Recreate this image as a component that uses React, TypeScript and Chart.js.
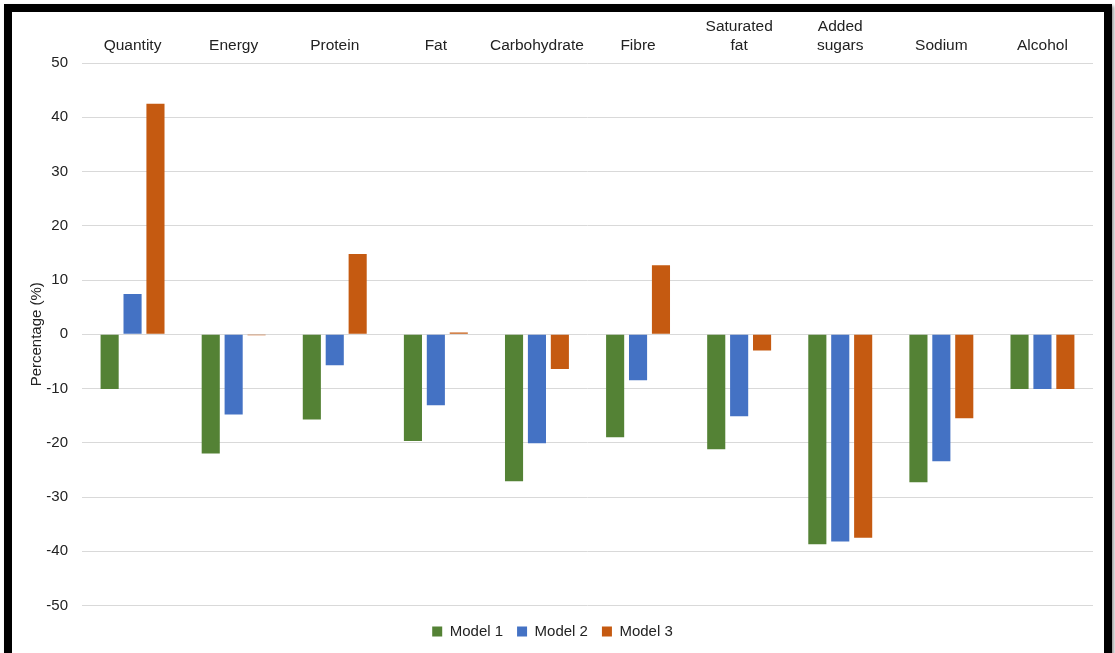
import React, { useEffect, useRef } from "react";
import { Chart, registerables } from "chart.js";

Chart.register(...registerables);

const categories: (string | string[])[] = [
  "Quantity",
  "Energy",
  "Protein",
  "Fat",
  "Carbohydrate",
  "Fibre",
  ["Saturated", "fat"],
  ["Added", "sugars"],
  "Sodium",
  "Alcohol",
];

const model1 = [-10.1, -22.0, -15.7, -19.7, -27.1, -19.0, -21.2, -38.7, -27.3, -10.1];
const model2 = [7.4, -14.8, -5.7, -13.1, -20.1, -8.5, -15.1, -38.2, -23.4, -10.1];
const model3 = [42.5, -0.2, 14.8, 0.3, -6.4, 12.7, -3.0, -37.5, -15.5, -10.1];

const yTicksMin = -50;
const yTicksMax = 50;
const yStep = 10;

const FONT = "'Liberation Sans', Arial, Helvetica, sans-serif";

export default function App() {
  const ref = useRef<HTMLCanvasElement | null>(null);

  useEffect(() => {
    if (!ref.current) return;
    const chart = new Chart(ref.current, {
      type: "bar",
      data: {
        labels: categories,
        datasets: [
          { label: "Model 1", data: model1, backgroundColor: "#548235" },
          { label: "Model 2", data: model2, backgroundColor: "#4472C4" },
          { label: "Model 3", data: model3, backgroundColor: "#C55A11" },
        ],
      },
      options: {
        animation: false,
        responsive: false,
        maintainAspectRatio: false,
        layout: { padding: { left: 0, right: 10, top: 0, bottom: 0 } },
        datasets: {
          bar: { categoryPercentage: 0.68, barPercentage: 0.79 },
        },
        plugins: {
          legend: {
            position: "bottom",
            title: {
              display: true,
              text: " ",
              font: { family: FONT, size: 1 },
              padding: { top: 3.3, bottom: 0 },
            },
            labels: {
              boxWidth: 10,
              boxHeight: 10,
              padding: 14,
              color: "#222",
              font: { family: FONT, size: 15 },
            },
          },
          tooltip: { enabled: false },
        },
        scales: {
          x: {
            position: "top",
            grid: { display: false, drawTicks: false },
            border: { display: false },
            afterFit: (scale: any) => {
              scale.height = 51;
            },
            ticks: {
              color: "#222",
              font: { family: FONT, size: 15.5 },
              padding: 8,
              maxRotation: 0,
              autoSkip: false,
            },
          },
          y: {
            min: yTicksMin,
            max: yTicksMax,
            grid: { color: "#d9d9d9", drawTicks: false, lineWidth: 1 },
            border: { display: false },
            afterFit: (scale: any) => {
              scale.width = 70;
            },
            ticks: {
              stepSize: yStep,
              color: "#222",
              font: { family: FONT, size: 15 },
              padding: 14,
            },
            title: {
              display: true,
              text: "Percentage (%)",
              color: "#222",
              font: { family: FONT, size: 15 },
              padding: { top: 16, bottom: 0 },
            },
          },
        },
      },
    });
    return () => chart.destroy();
  }, []);

  return (
    <div
      style={{
        position: "absolute",
        left: 0,
        top: 0,
        width: 1115,
        height: 653,
        background: "#fff",
        overflow: "hidden",
      }}
    >
      <canvas
        ref={ref}
        width={1091}
        height={637}
        style={{ position: "absolute", left: 12, top: 12, width: 1091, height: 637 }}
      />
      <div
        style={{
          position: "absolute",
          left: 4,
          top: 4,
          width: 1108,
          height: 660,
          border: "8px solid #000",
          boxSizing: "border-box",
          boxShadow: "2px 2px 3px rgba(0,0,0,0.4)",
        }}
      />
    </div>
  );
}
